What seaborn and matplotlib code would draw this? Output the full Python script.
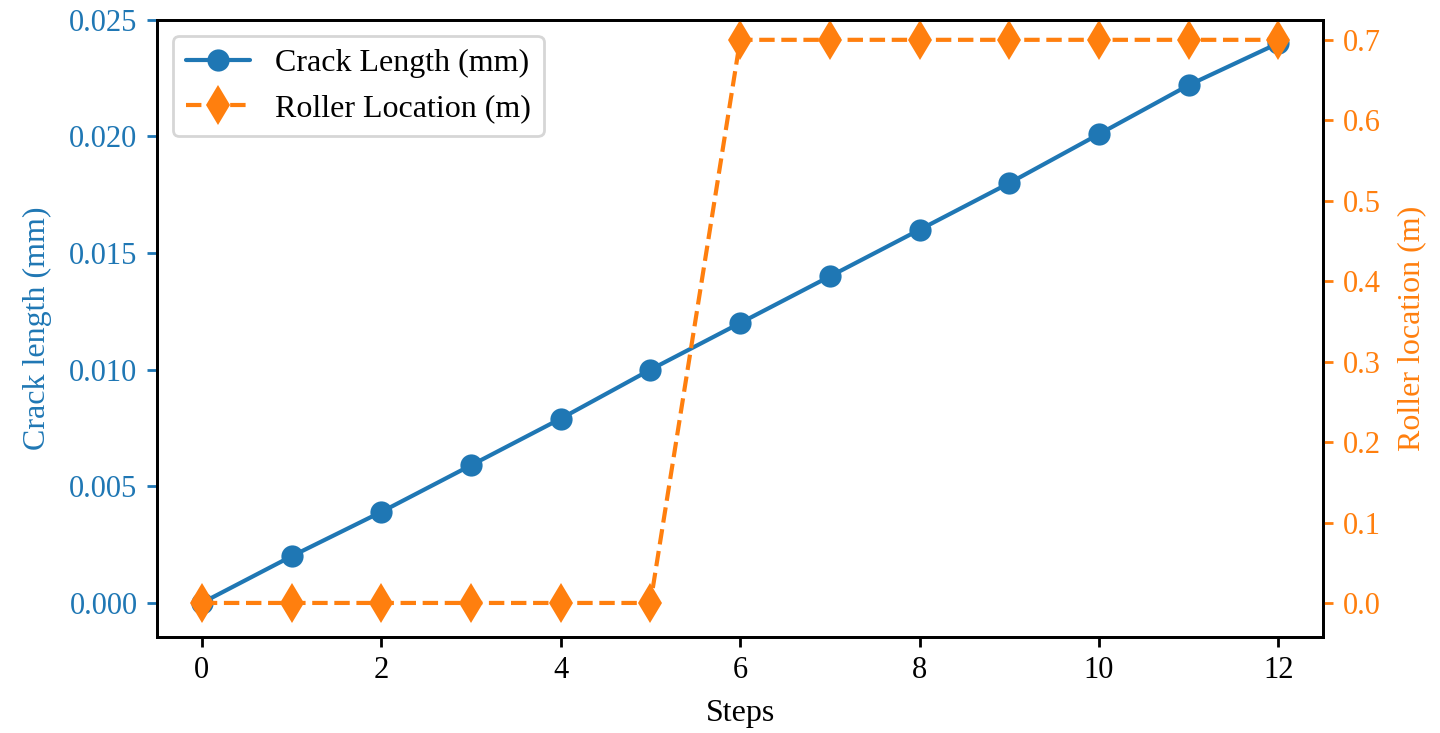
import matplotlib
matplotlib.use("Agg")
import matplotlib.pyplot as plt
import seaborn as sns
import pandas as pd

steps = list(range(13))
crack_length = [0.0, 0.002, 0.0039, 0.0059, 0.0079, 0.0100, 0.0120, 0.0140, 0.0160, 0.0180, 0.0201, 0.0222, 0.0240]
roller_location = [0.0, 0.0, 0.0, 0.0, 0.0, 0.0, 0.7, 0.7, 0.7, 0.7, 0.7, 0.7, 0.7]

sns.set_style("ticks")
plt.rcParams['font.family'] = ['Liberation Serif', 'DejaVu Serif']
plt.rcParams['font.size'] = 11
plt.rcParams['text.color'] = 'black'
plt.rcParams['axes.labelcolor'] = 'black'
plt.rcParams['xtick.color'] = 'black'
plt.rcParams['ytick.color'] = 'black'

blue = '#1f77b4'
orange = '#ff7f0e'

df = pd.DataFrame({'step': steps, 'crack': crack_length, 'roller': roller_location})

fig, ax1 = plt.subplots(figsize=(7.2, 3.665), dpi=200)
fig.subplots_adjust(left=0.109, right=0.919, top=0.973, bottom=0.131)

sns.lineplot(data=df, x='step', y='crack', ax=ax1, color=blue, marker='o', markersize=8,
             linewidth=1.5, markeredgewidth=0, label='Crack Length (mm)', legend=False)
ax2 = ax1.twinx()
sns.lineplot(data=df, x='step', y='roller', ax=ax2, color=orange, marker='d', markersize=10,
             linewidth=1.5, markeredgewidth=0, linestyle='--', label='Roller Location (m)', legend=False)

ax1.set_xlim(-0.5, 12.5)
ax1.set_ylim(-0.00146, 0.025)
ax2.set_ylim(-0.0423, 0.7249)
ax1.set_xticks([0, 2, 4, 6, 8, 10, 12])
ax1.set_yticks([0.0, 0.005, 0.010, 0.015, 0.020, 0.025])
ax1.set_yticklabels(['0.000', '0.005', '0.010', '0.015', '0.020', '0.025'])
ax2.set_yticks([0.0, 0.1, 0.2, 0.3, 0.4, 0.5, 0.6, 0.7])

ax1.set_xlabel('Steps', color='black', fontsize=11.5, labelpad=5)
ax1.set_ylabel('Crack length (mm)', color=blue, fontsize=11.5, labelpad=6)
ax2.set_ylabel('Roller location (m)', color=orange, fontsize=11.5, labelpad=6)
ax1.tick_params(axis='y', colors=blue, width=1.0)
ax2.tick_params(axis='y', colors=orange, width=1.0)
ax1.tick_params(axis='x', colors='black', width=1.0)
for a in (ax1, ax2):
    for s in a.spines.values():
        s.set_color('black')
        s.set_linewidth(1.0)

h1, l1 = ax1.get_legend_handles_labels()
h2, l2 = ax2.get_legend_handles_labels()
leg = ax1.legend(h1 + h2, l1 + l2, loc='upper left', frameon=True, fontsize=11.5)
for t in leg.get_texts():
    t.set_color('black')

fig.savefig('out.png', dpi=200)
